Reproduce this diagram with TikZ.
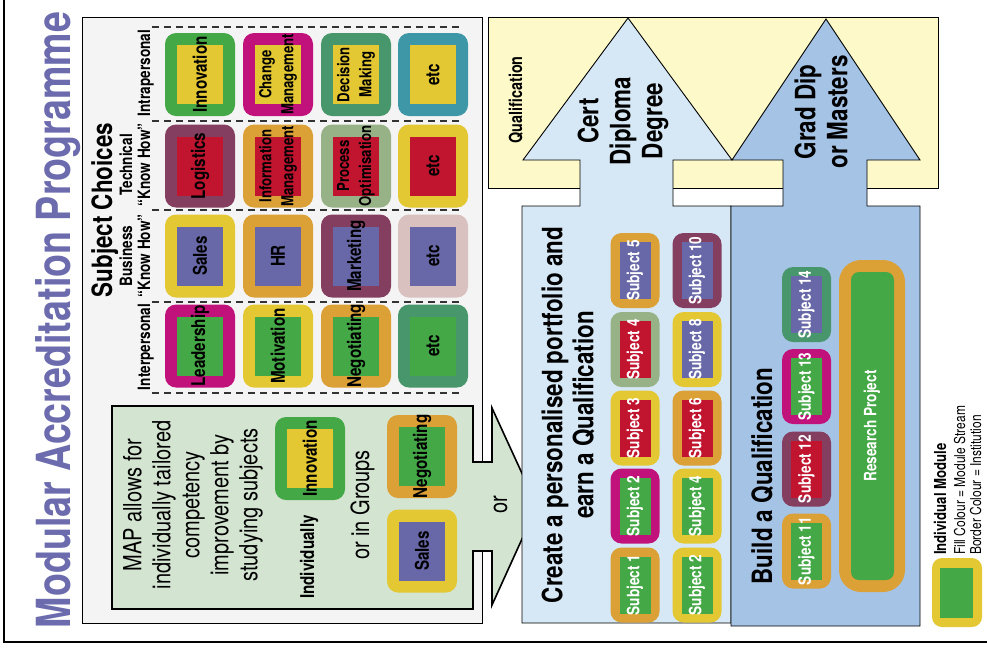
\documentclass[tikz,border=0pt]{standalone}
\usepackage{fontspec}
\setmainfont{TeX Gyre Heros}[FakeStretch=0.8]
\definecolor{ttl}{HTML}{6B6BAD}
\definecolor{panel}{HTML}{F4F4F4}
\definecolor{mapgreen}{HTML}{D3E4D1}
\definecolor{qual}{HTML}{FDF9C8}
\definecolor{lblue}{HTML}{D6E8F5}
\definecolor{mblue}{HTML}{A5C3E5}
\definecolor{cgreen}{HTML}{45A846}
\definecolor{cyellow}{HTML}{E3C833}
\definecolor{cmagenta}{HTML}{C1127B}
\definecolor{cteal}{HTML}{48966C}
\definecolor{cblue}{HTML}{3E97A7}
\definecolor{cplum}{HTML}{843E60}
\definecolor{cred}{HTML}{C0142F}
\definecolor{corange}{HTML}{DBA036}
\definecolor{csage}{HTML}{98B287}
\definecolor{cpurple}{HTML}{6868A8}
\definecolor{cpink}{HTML}{D9C1C0}
\tikzset{
  tileo/.style={rectangle, rounded corners=11, inner sep=0, outer sep=0, draw=none},
  tilei/.style={rectangle, inner sep=0, outer sep=0, draw=none},
  btxt/.style={rotate=90, align=center, inner sep=0, font=\bfseries\fontsize{19}{21}\selectfont},
  b2txt/.style={rotate=90, align=center, inner sep=0, font=\bfseries\fontsize{16.5}{22}\selectfont},
  stxt/.style={rotate=90, align=center, inner sep=0, text=white, font=\bfseries\fontsize{17}{19}\selectfont},
  lbl/.style={rotate=90, anchor=base, inner sep=0, font=\bfseries\fontsize{17}{19}\selectfont},
  bigtxt/.style={rotate=90, inner sep=0, align=center, font=\bfseries\fontsize{28}{32}\selectfont},
  dashline/.style={draw=black!80, line width=1.2, dash pattern=on 7pt off 5pt},
  outl/.style={draw=black, line width=0.9},
}
% #1 name, #2 centre, #3 width, #4 height, #5 border, #6 border colour, #7 fill colour, #8 text style, #9 text
\newcommand\tile[9]{%
  \node[tileo, fill=#6, minimum width=#3, minimum height=#4] (#1) at #2 {};
  \node[tilei, fill=#7, minimum width={#3-2*#5}, minimum height={#4-2*#5}] (#1i) at #2 {};
  \node[#8] (#1t) at #2 {#9};
}
\begin{document}
\begin{tikzpicture}[x=1pt,y=-1pt]
\useasboundingbox (0,0) rectangle (987,649);
\fill[white] (0,0) rectangle (987,649);
% frame
\coordinate (f1) at (4,0);
\coordinate (f2) at (4,642);
\coordinate (f3) at (987,642);
\draw[line width=1.3] (f1) -- (f2) -- (f3);
% title
\node[rotate=90, anchor=base, inner sep=0, text=ttl, font=\bfseries\fontsize{47}{50}\selectfont] (title) at (70,320) {Modular Accreditation Programme};
% left panel
\node[outl, fill=panel, minimum width=400, minimum height=606, inner sep=0] (panel) at (282,320) {};
\foreach \yy in {27,121,210,302,393}{
  \draw[dashline] (152,\yy) -- (462,\yy);
}
\node[rotate=90, anchor=base, inner sep=0, font=\bfseries\fontsize{28}{30}\selectfont] (subch) at (112,210) {Subject Choices};
\node[lbl] (intra) at (150,73) {Intrapersonal};
\node[lbl] (tech1) at (132,165) {Technical};
\node[lbl] (tech2) at (150,165) {“Know How”};
\node[lbl] (bus1) at (132,256) {Business};
\node[lbl] (bus2) at (150,256) {“Know How”};
\node[lbl] (inter) at (150,347) {Interpersonal};
% grid of tiles
\tile{a1}{(200,74.5)}{70}{83}{12}{cgreen}{cyellow}{btxt}{Innovation}
\tile{a2}{(278,74.5)}{70}{83}{12}{cmagenta}{cyellow}{b2txt}{Change\\Management}
\tile{a3}{(356,74.5)}{70}{83}{12}{cteal}{cyellow}{b2txt}{Decision\\Making}
\tile{a4}{(433,74.5)}{70}{83}{12}{cblue}{cyellow}{btxt}{etc}
\tile{b1}{(200,166)}{70}{83}{12}{cplum}{cred}{btxt}{Logistics}
\tile{b2}{(278,166)}{70}{83}{12}{corange}{cred}{b2txt}{Information\\Management}
\tile{b3}{(356,166)}{70}{83}{12}{csage}{cred}{b2txt}{Process\\Optimisation}
\tile{b4}{(433,166)}{70}{83}{12}{cyellow}{cred}{btxt}{etc}
\tile{c1}{(200,256)}{70}{83}{12}{cyellow}{cpurple}{btxt}{Sales}
\tile{c2}{(278,256)}{70}{83}{12}{corange}{cpurple}{btxt}{HR}
\tile{c3}{(356,256)}{70}{83}{12}{cplum}{cpurple}{btxt}{Marketing}
\tile{c4}{(433,256)}{70}{83}{12}{cpink}{cpurple}{btxt}{etc}
\tile{d1}{(200,346)}{70}{83}{12}{cmagenta}{cgreen}{btxt}{Leadership}
\tile{d2}{(278,346)}{70}{83}{12}{cyellow}{cgreen}{btxt}{Motivation}
\tile{d3}{(356,346)}{70}{83}{12}{corange}{cgreen}{btxt}{Negotiating}
\tile{d4}{(433,346)}{70}{83}{12}{cteal}{cgreen}{btxt}{etc}
% MAP arrow
\draw[fill=mapgreen, line width=1.6] (112,406) -- (473,406) -- (473,462) -- (492,462) -- (492,408) -- (537,506) -- (492,605) -- (492,551) -- (473,551) -- (473,609) -- (112,609) -- cycle;
\node[rotate=90, align=center, inner sep=0, font=\fontsize{25}{29}\selectfont] (maptxt) at (193,505) {MAP allows for\\individually tailored\\competency\\improvement by\\studying subjects};
\node[rotate=90, anchor=base, inner sep=0, font=\bfseries\fontsize{19}{21}\selectfont] (indiv) at (314,557) {Individually};
\tile{m1}{(310,458.5)}{70}{83}{12}{cgreen}{cyellow}{btxt}{Innovation}
\node[rotate=90, anchor=base, inner sep=0, font=\fontsize{25}{27}\selectfont] (groups) at (369,505) {or in Groups};
\tile{m2}{(422,456.5)}{70}{83}{12}{corange}{cgreen}{btxt}{Negotiating}
\tile{m3}{(422,551)}{70}{83}{12}{cyellow}{cpurple}{btxt}{Sales}
\node[rotate=90, anchor=base, inner sep=0, font=\fontsize{25}{27}\selectfont] (ortxt) at (507,505) {or};
% qualification box and arrows
\node[outl, fill=qual, minimum width=450, minimum height=171, inner sep=0] (qbox) at (713,102.5) {};
\draw[outl, fill=lblue] (628,18) -- (732,160) -- (673,160) -- (673,206) -- (731,206) -- (731,623) -- (522,623) -- (522,206) -- (580,206) -- (580,160) -- (523,160) -- cycle;
\draw[outl, fill=mblue] (826,19) -- (920,160) -- (867,160) -- (867,206) -- (920,206) -- (920,626) -- (731,626) -- (731,206) -- (783,206) -- (783,160) -- (732,160) -- cycle;
\node[rotate=90, anchor=base, inner sep=0, font=\bfseries\fontsize{18}{20}\selectfont] (qualtxt) at (522,100) {Qualification};
\node[bigtxt] (cert) at (623,121) {Cert\\Diploma\\Degree};
\node[bigtxt] (grad) at (821,112) {Grad Dip\\or Masters};
\node[bigtxt, font=\bfseries\fontsize{28}{31}\selectfont] (create) at (568,415) {Create a personalised portfolio and\\earn a Qualification};
\node[bigtxt, anchor=base] (build) at (772,476) {Build a Qualification};
% subject tiles
\tile{s5}{(635,270.5)}{49}{75}{9}{corange}{cpurple}{stxt}{Subject 5}
\tile{s4}{(635,349.5)}{49}{75}{9}{csage}{cred}{stxt}{Subject 4}
\tile{s3}{(635,428)}{49}{75}{9}{cyellow}{cred}{stxt}{Subject 3}
\tile{s2}{(635,506)}{49}{75}{9}{cmagenta}{cgreen}{stxt}{Subject 2}
\tile{s1}{(635,585)}{49}{75}{9}{corange}{cgreen}{stxt}{Subject 1}
\tile{r10}{(697,270.5)}{49}{75}{9}{cplum}{cpurple}{stxt}{Subject 10}
\tile{r8}{(697,349.5)}{49}{75}{9}{cyellow}{cpurple}{stxt}{Subject 8}
\tile{r6}{(697,428)}{49}{75}{9}{corange}{cred}{stxt}{Subject 6}
\tile{r4}{(697,506)}{49}{75}{9}{cyellow}{cgreen}{stxt}{Subject 4}
\tile{r2}{(697,585)}{49}{75}{9}{cyellow}{cgreen}{stxt}{Subject 2}
\tile{q14}{(806.5,304.5)}{49}{75}{9}{cteal}{cpurple}{stxt}{Subject 14}
\tile{q13}{(806.5,386.5)}{49}{75}{9}{cmagenta}{cgreen}{stxt}{Subject 13}
\tile{q12}{(806.5,469)}{49}{75}{9}{cplum}{cred}{stxt}{Subject 12}
\tile{q11}{(806.5,551)}{49}{75}{9}{corange}{cgreen}{stxt}{Subject 11}
% research project
\node[tileo, rounded corners=22, fill=corange, minimum width=66, minimum height=332] (rp) at (872,426) {};
\node[tileo, rounded corners=8, fill=cgreen, minimum width=43, minimum height=308] (rpi) at (872.5,426) {};
\node[stxt] (rpt) at (872,426) {Research Project};
% legend
\node[tileo, rounded corners=10, fill=cyellow, minimum width=50, minimum height=69] (lgt) at (957,592.5) {};
\node[tilei, fill=cgreen, minimum width=33, minimum height=50] (lgti) at (956.5,593) {};
\node[rotate=90, anchor=base west, inner sep=0, font=\bfseries\fontsize{16.5}{18}\selectfont] (lg1) at (946,555) {Individual Module};
\node[rotate=90, anchor=base west, inner sep=0, font=\fontsize{15}{17}\selectfont] (lg2) at (965,555) {Fill Colour = Module Stream};
\node[rotate=90, anchor=base west, inner sep=0, font=\fontsize{15}{17}\selectfont] (lg3) at (981,555) {Border Colour = Institution};
\end{tikzpicture}
\end{document}
